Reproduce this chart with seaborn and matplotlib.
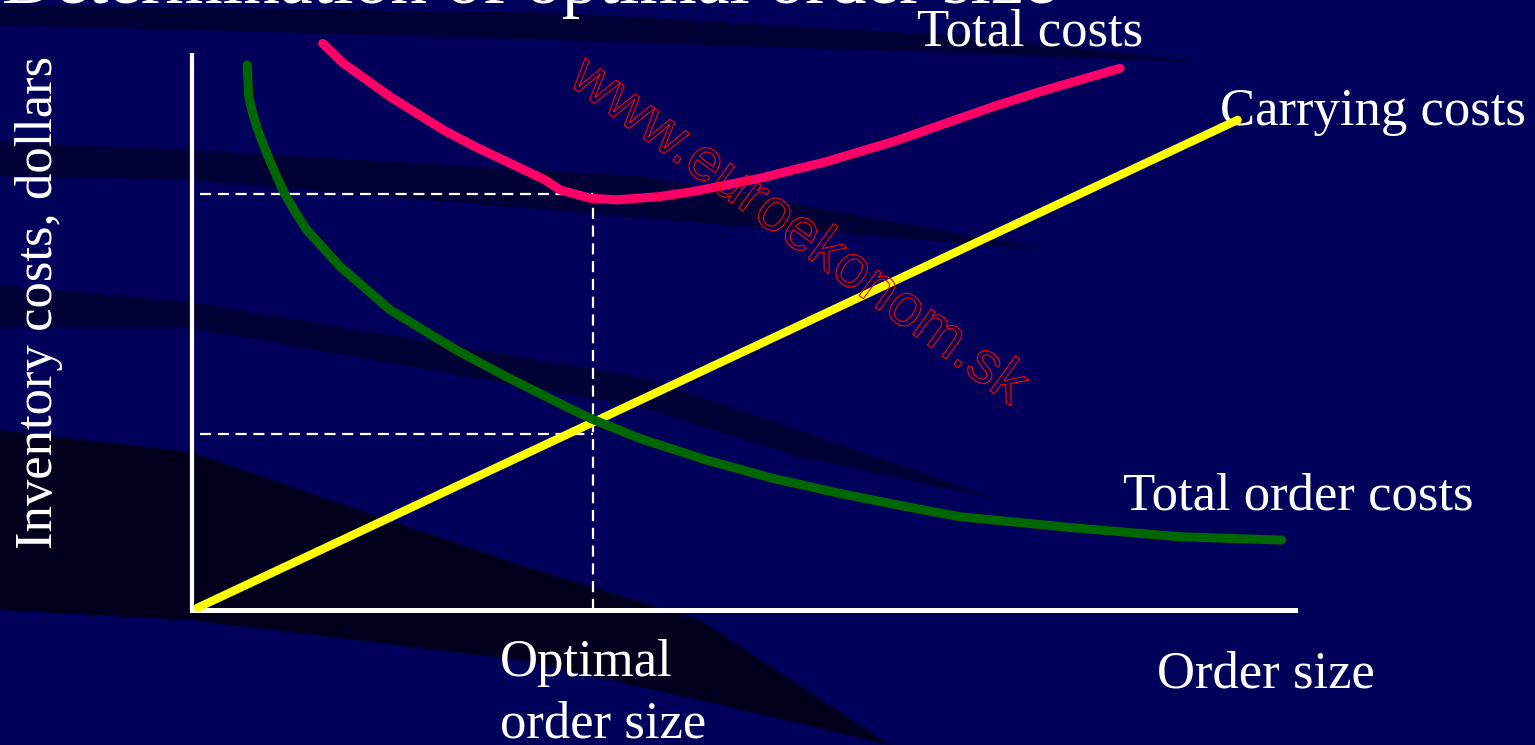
import numpy as np
import pandas as pd
import matplotlib
matplotlib.use("Agg")
import matplotlib.pyplot as plt
import seaborn as sns
from matplotlib.textpath import TextPath
from matplotlib.patches import PathPatch
from matplotlib.font_manager import FontProperties
from matplotlib.transforms import Affine2D

# --- valores (ambos ejes en escala 0-100) ---
carrying_x = [0.5, 94.8]
carrying_y = [0.4, 88.3]

order_x = [5.01, 5.14, 5.50, 5.96, 6.53, 7.16, 7.82, 8.43, 9.43, 10.40, 13.42,
           17.95, 24.00, 28.53, 34.57, 36.38, 40.62, 46.66, 52.70, 58.75, 64.80,
           69.63, 80.51, 89.57, 98.79]
order_y = [98.2, 92.5, 89.5, 86.5, 83.5, 80.5, 77.5, 74.9, 71.5, 68.5, 61.9,
           54.1, 46.8, 42.0, 36.0, 34.3, 30.9, 27.0, 23.7, 21.0, 18.6,
           16.8, 14.7, 13.2, 12.6]

total_x = [11.85, 13.72, 15.84, 17.95, 20.37, 22.78, 25.66, 28.83, 32.00, 33.36,
           36.08, 38.50, 42.43, 45.45, 48.48, 51.50, 54.51, 57.54, 60.56, 63.58,
           66.61, 69.63, 72.65, 76.88, 84.13]
total_y = [102.1, 98.5, 95.5, 92.5, 89.5, 86.5, 83.5, 80.5, 77.5, 75.7,
           74.2, 73.9, 74.5, 75.4, 76.6, 77.8, 79.3, 80.8, 82.6, 84.4,
           86.5, 88.6, 90.7, 93.4, 97.6]

optimal_q = 36.4      # linea vertical discontinua
total_min = 75.0      # nivel del coste total minimo
cost_at_q = 31.7      # nivel del coste de pedido / mantenimiento

NAVY = "#00005a"
W, H = 1535, 745

sns.set_style("white")
plt.rcParams["font.family"] = ["Liberation Serif", "DejaVu Serif"]

fig = plt.figure(figsize=(W / 100, H / 100), dpi=100, facecolor=NAVY)

# --- fondo: franjas oscuras decorativas (coordenadas en pixeles) ---
bg = fig.add_axes([0, 0, 1, 1], zorder=0)
bg.set_xlim(0, W)
bg.set_ylim(H, 0)
bg.axis("off")
bg.add_patch(plt.Rectangle((0, 0), W, H, color=NAVY, zorder=0))
bands = [
    ([0, 560, 980, 1200], [5, 13, 37, 62], [25, 40, 54, 62], "#000034"),
    ([0, 190, 640, 1050], [142, 150, 176, 250], [176, 180, 218, 250], "#000036"),
    ([0, 190, 640, 800, 1000], [285, 302, 377, 430, 500], [328, 328, 407, 457, 500], "#000036"),
    ([0, 190, 520, 700, 890], [430, 452, 565, 620, 745], [610, 620, 660, 700, 745], "#00001c"),
]
for xs, top, bot, col in bands:
    bg.fill(list(xs) + list(xs[::-1]), list(top) + list(bot[::-1]),
            color=col, lw=0, zorder=1)

# --- grafico principal ---
ax = fig.add_axes([192 / W, (H - 610) / H, (1295 - 192) / W, 555 / H], zorder=2)
ax.set_facecolor("none")
ax.set_xlim(0, 100)
ax.set_ylim(0, 100)

df_carry = pd.DataFrame({"q": carrying_x, "cost": carrying_y})
df_order = pd.DataFrame({"q": order_x, "cost": order_y})
df_total = pd.DataFrame({"q": total_x, "cost": total_y})

sns.lineplot(data=df_carry, x="q", y="cost", ax=ax, color="#ffff00", lw=6,
             sort=False, estimator=None, clip_on=False, zorder=3)
sns.lineplot(data=df_order, x="q", y="cost", ax=ax, color="#006600", lw=6.5,
             sort=False, estimator=None, clip_on=False, zorder=4,
             solid_capstyle="round", solid_joinstyle="round")
sns.lineplot(data=df_total, x="q", y="cost", ax=ax, color="#ff0066", lw=6.5,
             sort=False, estimator=None, clip_on=False, zorder=4,
             solid_capstyle="round", solid_joinstyle="round")

dash = dict(color="white", lw=1.6, dashes=(5, 3), zorder=2)
ax.plot([0.7, optimal_q], [total_min, total_min], **dash)
ax.plot([0.7, optimal_q], [cost_at_q, cost_at_q], **dash)
ax.plot([optimal_q, optimal_q], [0, total_min], **dash)

ax.set_xlabel("")
ax.set_ylabel("")
ax.set_xticks([])
ax.set_yticks([])
for s in ["top", "right"]:
    ax.spines[s].set_visible(False)
ax.spines["left"].set_color("white")
ax.spines["left"].set_linewidth(3)
ax.spines["bottom"].set_color("white")
ax.spines["bottom"].set_linewidth(3.6)

# --- textos ---
txt = dict(color="white", fontsize=38, va="baseline", ha="left", zorder=5)
bg.text(2, 3, "Determination of optimal order size", color="white",
        fontsize=53, va="baseline", ha="left")
bg.text(917, 46, "Total costs", **txt)
bg.text(1220, 125, "Carrying costs", **txt)
bg.text(1123, 510, "Total order costs", **txt)
bg.text(1157, 687, "Order size", **txt)
bg.text(500, 676, "Optimal", **txt)
bg.text(500, 738, "order size", **txt)
bg.text(39, 302, "Inventory costs, dollars", color="white", fontsize=38,
        rotation=90, ha="center", va="center")

# --- marca de agua en contorno rojo ---
wm_size = 59.5
wm = TextPath((0, 0), "www.euroekonom.sk", size=wm_size,
              prop=FontProperties(family="Liberation Sans"))
ext = wm.get_extents()
tr = (Affine2D().translate(-(ext.x0 + ext.x1) / 2, -0.26 * wm_size)
      .rotate_deg(-36).translate(798, H - 232))
fig.add_artist(PathPatch(wm, transform=tr, facecolor="none",
                         edgecolor="#ff0000", lw=0.8, zorder=10))

fig.savefig("out.png", dpi=100, facecolor=NAVY)
